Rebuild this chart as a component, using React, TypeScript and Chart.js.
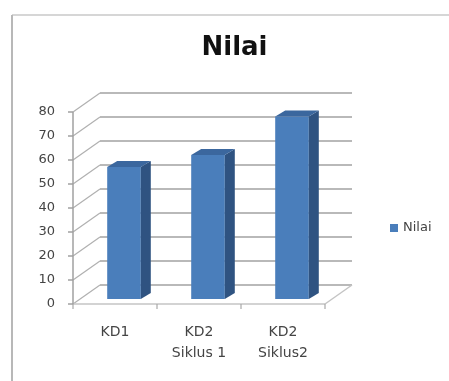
import { useEffect, useRef } from "react";
import { Chart, registerables } from "chart.js";

Chart.register(...registerables);

// ---- data ----
const categories: string[][] = [["KD1"], ["KD2", "Siklus 1"], ["KD2", "Siklus2"]];
const seriesName = "Nilai";
const values = [55, 60, 76];
const chartTitle = "Nilai";
const yMin = 0;
const yMax = 80;
const yStep = 10;

// ---- style ----
const FRONT = "#4A7EBB";
const SIDE = "#2F5381";
const TOP = "#3B679E";
const TEXT = "#444444";
const WALL_DX = 27;
const WALL_DY = 19;
const BAR_DX = 9;
const BAR_DY = 5;
const SIDE_DX = 10;
const SIDE_DY = 6;

function line(ctx: CanvasRenderingContext2D, x1: number, y1: number, x2: number, y2: number) {
  ctx.beginPath();
  ctx.moveTo(x1, y1);
  ctx.lineTo(x2, y2);
  ctx.stroke();
}

const threeD = {
  id: "threeD",
  beforeDraw(chart: any) {
    const ctx = chart.ctx as CanvasRenderingContext2D;
    ctx.save();
    ctx.fillStyle = "#ffffff";
    ctx.fillRect(0, 0, chart.width, chart.height);
    ctx.lineWidth = 2;
    ctx.strokeStyle = "#d6d6d6";
    line(ctx, 12, 15, chart.width, 15);
    ctx.strokeStyle = "#b8b8b8";
    line(ctx, 12, 15, 12, chart.height);
    ctx.restore();
  },
  beforeDatasetsDraw(chart: any) {
    const ctx = chart.ctx as CanvasRenderingContext2D;
    const a = chart.chartArea;
    const ys = chart.scales.y;
    const xs = chart.scales.x;
    ctx.save();
    ctx.lineCap = "butt";
    // walls
    ys.ticks.forEach((t: any) => {
      const py = ys.getPixelForValue(t.value);
      ctx.lineWidth = 1.2;
      ctx.strokeStyle = "#b0b0b0";
      line(ctx, a.left, py, a.left + WALL_DX, py - WALL_DY);
      ctx.lineWidth = 1.5;
      ctx.strokeStyle = "#a2a2a2";
      line(ctx, a.left + WALL_DX, py - WALL_DY, a.right + WALL_DX, py - WALL_DY);
    });
    // floor
    const by = ys.getPixelForValue(yMin);
    ctx.lineWidth = 1.5;
    ctx.strokeStyle = "#c4c4c4";
    line(ctx, a.left, by, a.right, by);
    line(ctx, a.right, by, a.right + WALL_DX, by - WALL_DY);
    // x tick marks at category boundaries
    const step = xs.getPixelForValue(1) - xs.getPixelForValue(0);
    ctx.strokeStyle = "#a8a8a8";
    ctx.lineWidth = 1.2;
    for (let i = 0; i <= categories.length; i++) {
      const px = xs.getPixelForValue(0) - step / 2 + i * step;
      line(ctx, px, by, px, by + 5);
    }
    // y axis line + ticks
    ctx.strokeStyle = "#a0a0a0";
    ctx.lineWidth = 1.5;
    line(ctx, a.left, ys.getPixelForValue(yMax), a.left, by);
    ys.ticks.forEach((t: any) => {
      const py = ys.getPixelForValue(t.value);
      line(ctx, a.left - 5, py, a.left, py);
    });
    ctx.restore();
    ctx.save();
    ctx.translate(BAR_DX, -BAR_DY);
  },
  afterDatasetsDraw(chart: any) {
    const ctx = chart.ctx as CanvasRenderingContext2D;
    const meta = chart.getDatasetMeta(0);
    meta.data.forEach((el: any) => {
      const { x, y, base, width } = el.getProps(["x", "y", "base", "width"], true);
      const l = x - width / 2;
      const r = x + width / 2;
      ctx.fillStyle = SIDE;
      ctx.beginPath();
      ctx.moveTo(r, y);
      ctx.lineTo(r + SIDE_DX, y - SIDE_DY);
      ctx.lineTo(r + SIDE_DX, base - SIDE_DY);
      ctx.lineTo(r, base);
      ctx.closePath();
      ctx.fill();
      ctx.fillStyle = TOP;
      ctx.beginPath();
      ctx.moveTo(l, y);
      ctx.lineTo(l + SIDE_DX, y - SIDE_DY);
      ctx.lineTo(r + SIDE_DX, y - SIDE_DY);
      ctx.lineTo(r, y);
      ctx.closePath();
      ctx.fill();
    });
    ctx.restore();
  },
  afterDraw(chart: any) {
    const ctx = chart.ctx as CanvasRenderingContext2D;
    ctx.save();
    ctx.fillStyle = FRONT;
    ctx.fillRect(390, 224, 8, 8);
    ctx.fillStyle = TEXT;
    ctx.font = "13px 'DejaVu Sans'";
    ctx.textBaseline = "middle";
    ctx.textAlign = "left";
    ctx.fillText(seriesName, 403, 228);
    ctx.restore();
  },
};

export default function App() {
  const ref = useRef<HTMLCanvasElement | null>(null);
  useEffect(() => {
    if (!ref.current) return;
    const chart = new Chart(ref.current, {
      type: "bar",
      data: {
        labels: categories,
        datasets: [
          {
            label: seriesName,
            data: values,
            backgroundColor: FRONT,
            borderWidth: 0,
            barPercentage: 0.4,
            categoryPercentage: 1,
            clip: false as any,
          },
        ],
      },
      options: {
        animation: false,
        responsive: false,
        devicePixelRatio: 1,
        layout: { padding: { left: 20, top: 20, right: 0, bottom: 0 } },
        plugins: {
          legend: { display: false },
          tooltip: { enabled: false },
          title: {
            display: true,
            text: chartTitle,
            color: "#111111",
            font: { family: "'DejaVu Sans'", size: 26, weight: "bold", lineHeight: 1.2 },
            padding: { top: 12.4, bottom: 48.4 },
          },
        },
        scales: {
          x: {
            grid: { display: false, drawTicks: false },
            border: { display: false },
            ticks: {
              color: TEXT,
              padding: 17.5,
              maxRotation: 0,
              autoSkip: false,
              font: { family: "'DejaVu Sans'", size: 14, lineHeight: 1.5 },
            },
            afterFit: (s: any) => {
              s.height = 77;
            },
          },
          y: {
            min: yMin,
            max: yMax,
            grid: { display: false, drawTicks: false },
            border: { display: false },
            ticks: {
              stepSize: yStep,
              color: TEXT,
              padding: 18,
              font: { family: "'DejaVu Sans'", size: 13 },
            },
            afterFit: (s: any) => {
              s.width = 53;
            },
          },
          y2: {
            position: "right",
            display: true,
            grid: { display: false, drawTicks: false },
            border: { display: false },
            ticks: { display: false },
            afterFit: (s: any) => {
              s.width = 124;
            },
          },
        },
      },
      plugins: [threeD as any],
    });
    return () => chart.destroy();
  }, []);
  return (
    <canvas
      ref={ref}
      width={449}
      height={381}
      style={{ position: "fixed", left: 0, top: 0, width: 449, height: 381, display: "block" }}
    />
  );
}
